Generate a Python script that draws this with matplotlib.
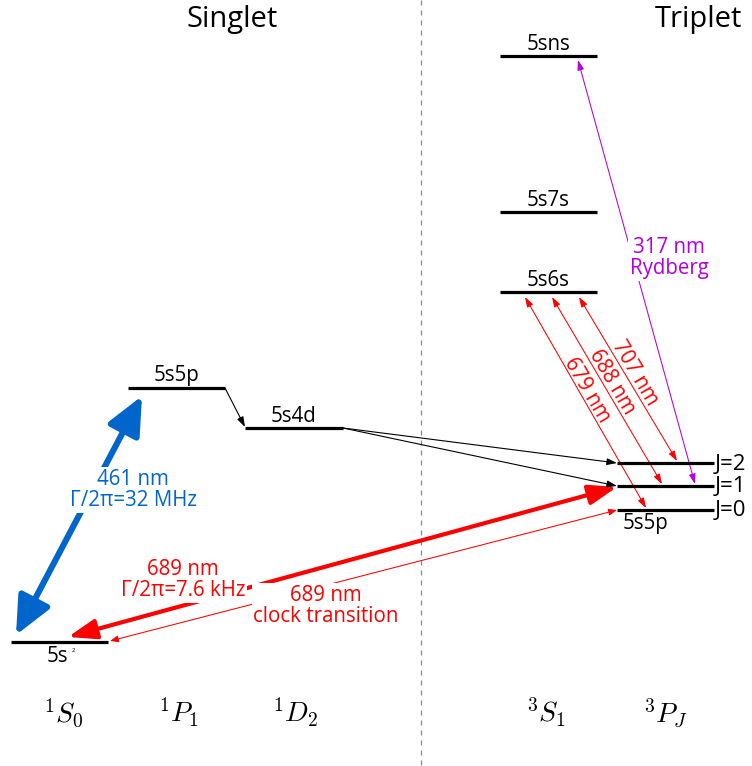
import matplotlib
matplotlib.use("Agg")
import matplotlib.pyplot as plt
from matplotlib.patches import FancyArrowPatch

plt.rcParams['font.family'] = ['Open Sans', 'DejaVu Sans']
plt.rcParams['mathtext.fontset'] = 'cm'

# Energy levels (diagram coordinates: x extent and height, y grows downward)
level_keys = ['5s2', '1P1', '1D2', 'ns', '7s', '6s', '3P2', '3P1', '3P0']
level_x0 = [11, 128, 245, 500, 500, 500, 617, 617, 617]
level_x1 = [108, 225, 343, 597, 597, 597, 714, 714, 714]
level_y = [642, 388, 428, 56, 212, 292, 463, 486, 510]
level_text = ['5s', '5s5p', '5s4d', '5sns', '5s7s', '5s6s', 'J=2', 'J=1', 'J=0']

# Term symbols along the bottom
term_labels = [r'$^1S_0$', r'$^1P_1$', r'$^1D_2$', r'$^3S_1$', r'$^3P_J$']
term_x = [63, 178, 295, 546, 665]

# Wavelengths (nm) and linewidths of the drawn transitions
blue_nm, blue_gamma = 461, '32 MHz'
red_nm, red_gamma = 689, '7.6 kHz'
clock_nm = 689
triplet_nm = [679, 688, 707]
rydberg_nm = 317

RED = '#ff0000'
BLUE = '#0066cc'
PURPLE = '#b400dc'
FS = 14.8

fig = plt.figure(figsize=(7.52, 7.66), dpi=100)
ax = fig.add_axes([0, 0, 1, 1])
ax.set_xlim(0, 752)
ax.set_ylim(766, 0)
ax.axis('off')

L = {k: (x0, x1, y) for k, x0, x1, y in zip(level_keys, level_x0, level_x1, level_y)}

# separator between singlet and triplet manifolds
ax.plot([421, 421], [0, 766], color='#888888', lw=0.9, ls=(0, (4, 4)))
ax.text(232, 19, 'Singlet', fontsize=21, ha='center', va='center')
ax.text(698, 19, 'Triplet', fontsize=21, ha='center', va='center')

for k, x0, x1, y, t in zip(level_keys, level_x0, level_x1, level_y, level_text):
    ax.plot([x0, x1], [y, y], color='black', lw=2.3, solid_capstyle='butt', zorder=3)
    if k.startswith('3P'):
        ax.text(x1 + 1, y + 1, t, fontsize=16, ha='left', va='center')
    elif k == '5s2':
        ax.text(57, y + 15, t, fontsize=FS, ha='center', va='center')
        ax.text(73, y + 8, '2', fontsize=4.5, ha='center', va='center')
    else:
        ax.text((x0 + x1) / 2, y - 12, t, fontsize=FS, ha='center', va='center')
ax.text(646, 523, '5s5p', fontsize=FS, ha='center', va='center')

for lab, x in zip(term_labels, term_x):
    ax.text(x, 713, lab, fontsize=20, ha='center', va='center')


def arrow(p, q, color, lw, hl, hw, style='<|-|>', z=2):
    a = FancyArrowPatch(p, q, arrowstyle=f'{style},head_length={hl},head_width={hw}',
                        color=color, lw=lw, shrinkA=0, shrinkB=0,
                        mutation_scale=1, zorder=z)
    ax.add_patch(a)


label_kw = dict(fontsize=FS, ha='center', va='center', linespacing=1.05, zorder=4)
white = dict(facecolor='white', edgecolor='none', pad=1)

# 461 nm cooling transition
arrow((16, 635), (142, 396), BLUE, 4.4, 23, 10.5)
ax.text(133, 490, f'{blue_nm} nm\nΓ/2π={blue_gamma}', color=BLUE, bbox=white, **label_kw)

# 689 nm intercombination line and clock transition
arrow((68, 637), (617, 487), RED, 3.0, 17, 6)
ax.text(183, 580, f'{red_nm} nm\nΓ/2π={red_gamma}', color=RED, bbox=white, **label_kw)
arrow((110, 641), (617, 510), RED, 0.75, 5, 2)
ax.text(326, 606, f'{clock_nm} nm\nclock transition', color=RED, bbox=white, **label_kw)

# decay path 5s5p -> 5s4d -> 3P1, 3P2
arrow((L['1P1'][1], L['1P1'][2]), (L['1D2'][0], L['1D2'][2] - 1), 'black', 0.8, 6, 2, '-|>')
arrow((L['1D2'][1], L['1D2'][2]), (L['3P2'][0], L['3P2'][2]), 'black', 0.8, 6, 2, '-|>')
arrow((L['1D2'][1], L['1D2'][2]), (L['3P1'][0], L['3P1'][2]), 'black', 0.8, 6, 2, '-|>')

# 5s6s repumping lines
tops = [(525, 297), (552, 297), (579, 297)]
ends = [(646, 508), (662, 484), (677, 461)]
text_pos = [(587, 390), (612, 382), (635, 373)]
for nm, p, q, tp in zip(triplet_nm, tops, ends, text_pos):
    arrow(p, q, RED, 0.75, 6, 2)
    ax.text(tp[0], tp[1], f'{nm} nm', color=RED, fontsize=FS, rotation=-59.5,
            ha='center', va='center', rotation_mode='anchor')

# Rydberg excitation
arrow((695, 484), (578, 60), PURPLE, 0.75, 6, 2)
ax.text(669, 258, f'{rydberg_nm} nm\nRydberg', color=PURPLE, bbox=white, **label_kw)

fig.savefig('out.png', dpi=100)
